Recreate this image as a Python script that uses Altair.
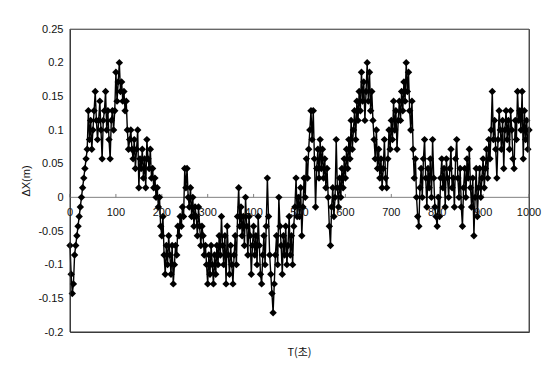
import altair as alt
import pandas as pd

# Displacement record, sampled every 2.5 s, stored as sensor counts (1 count = 1/70 m)
RES_M = 1 / 70
DT_S = 2.5

seg_000 = [-5, -8, -10, -9, -6, -5, -4, -3, -2, -1, 0, 1, 2, 3, 4, 5, 9, 6, 8, 5]
seg_050 = [7, 9, 11, 8, 6, 8, 10, 7, 4, 8, 9, 11, 7, 9, 6, 4, 8, 9, 7, 9]
seg_100 = [13, 10, 12, 14, 11, 12, 10, 11, 9, 10, 7, 5, 6, 7, 5, 4, 6, 3, 5, 7]
seg_150 = [1, 4, 3, 5, 2, 4, 1, 6, 4, 3, 5, 2, 3, 1, 2, 0, 1, -1, 0, -3]
seg_200 = [-4, -2, -6, -8, -5, -7, -4, -6, -8, -5, -9, -7, -5, -6, -3, -4, -2, -3, -1, -2]
seg_250 = [3, 1, 3, 0, -1, 1, -2, 0, -3, -1, -2, -4, -1, -3, -5, -3, -4, -6, -5, -7]
seg_300 = [-9, -6, -8, -5, -7, -9, -6, -8, -5, -7, -4, -6, -2, -5, -7, -4, -9, -3, -6, -8]
seg_350 = [-5, -7, -9, -6, -4, -7, -2, 1, -3, -1, -4, -2, -5, 0, -3, -6, -2, -4, -8, -5]
seg_400 = [-3, -6, -4, -7, -2, -5, -8, -9, -6, -4, -7, -3, 2, -2, -6, -8, -10, -12, -9, -6]
seg_450 = [-4, -7, 0, -3, -5, -8, -4, -6, -3, -7, -5, -2, -6, -4, -7, -3, -1, 2, -2, 0]
seg_500 = [-2, 1, -4, -1, 2, 0, 4, 2, 5, 7, 9, 6, 9, 4, -1, 3, 5, 2, 6, 3]
seg_550 = [5, 2, 4, 1, 3, 0, -3, -5, -1, 1, -2, 0, 6, 1, -1, 2, 0, 3, 1, 4]
seg_600 = [2, 5, 3, 6, 4, 8, 5, 7, 9, 6, 10, 8, 11, 9, 13, 10, 12, 8, 11, 14]
seg_650 = [10, 13, 9, 11, 8, 6, 4, 7, 3, 5, 2, 4, 1, 3, 6, 2, 1, 4, 7, 5]
seg_700 = [8, 6, 10, 7, 9, 5, 8, 10, 8, 11, 9, 12, 10, 14, 11, 13, 9, 7, 10, 5]
seg_750 = [2, 4, 0, -2, -3, 1, 3, 0, 4, 6, 2, -1, 3, 1, 4, 0, 6, 2, -1, -2]
seg_800 = [-3, 0, -2, 2, 4, 1, 3, -1, 4, 2, 0, 3, 5, 1, 2, -1, 4, 6, 2, 0]
seg_850 = [3, -1, -3, 1, 3, 0, 4, 2, 5, 1, -1, 2, -4, 0, 3, -2, 1, 3, 0, 2]
seg_900 = [4, 1, 3, 5, 2, 6, 4, 7, 11, 6, 8, 5, 2, 6, 9, 7, 5, 8, 3, 7]
seg_950 = [9, 6, 8, 5, 9, 7, 4, 3, 8, 6, 11, 8, 9, 7, 11, 4, 9, 6, 8, 5, 7]

dx_counts = (seg_000 + seg_050 + seg_100 + seg_150 + seg_200 + seg_250 + seg_300
             + seg_350 + seg_400 + seg_450 + seg_500 + seg_550 + seg_600 + seg_650
             + seg_700 + seg_750 + seg_800 + seg_850 + seg_900 + seg_950)

x_ticks = [0, 100, 200, 300, 400, 500, 600, 700, 800, 900, 1000]
y_ticks = [-0.2, -0.15, -0.1, -0.05, 0, 0.05, 0.1, 0.15, 0.2, 0.25]

T_MIN, T_MAX = 0, 1000
Y_MIN, Y_MAX = -0.2, 0.25

df = pd.DataFrame({
    "T": [i * DT_S for i in range(len(dx_counts))],
    "dX": [c * RES_M for c in dx_counts],
})
tick_df = pd.DataFrame({"T": x_ticks, "label": [str(v) for v in x_ticks]})

# the four edges of the plot frame, in data units
edges = pd.DataFrame({
    "x": [T_MIN, T_MIN, T_MIN, T_MAX],
    "x2": [T_MAX, T_MAX, T_MIN, T_MAX],
    "y": [Y_MAX, Y_MIN, Y_MIN, Y_MIN],
    "y2": [Y_MAX, Y_MIN, Y_MAX, Y_MAX],
    "c": ["#8a8a8a", "#333333", "#333333", "#555555"],
})

PLOT_W, PLOT_H = 459, 303

x_scale = alt.Scale(domain=[T_MIN, T_MAX], nice=False, zero=False)
y_scale = alt.Scale(domain=[Y_MIN, Y_MAX], nice=False)

y_axis = alt.Axis(
    values=y_ticks, title="ΔX(m)", grid=False, ticks=False, domain=False,
    labelExpr="replace(format(datum.value, '.2~f'), '\u2212', '-')",
    labelPadding=7, labelFont="Liberation Sans", labelFontSize=11,
    labelColor="#111111", titleFont="Liberation Sans", titleFontSize=11,
    titleFontWeight="normal", titleColor="#111111", labelOverlap=False,
    titlePadding=6,
)

base = alt.Chart(df).encode(
    x=alt.X("T:Q", scale=x_scale, axis=None),
    y=alt.Y("dX:Q", scale=y_scale, axis=y_axis),
)

# horizontal axis drawn along the zero line: line, small ticks and labels
zero_line = alt.Chart(tick_df).mark_rule(color="#808080", strokeWidth=1).encode(
    x=alt.X("min(T):Q", scale=x_scale, axis=None),
    x2="max(T):Q",
    y=alt.Y("zero:Q", scale=y_scale, axis=y_axis),
).transform_calculate(zero="0")

zero_ticks = alt.Chart(tick_df).mark_rule(color="#808080", strokeWidth=1).encode(
    x=alt.X("T:Q", scale=x_scale, axis=None),
    y=alt.Y("zero:Q", scale=y_scale, axis=y_axis),
    y2="tip:Q",
).transform_calculate(zero="0", tip="0.005")

tick_labels = alt.Chart(tick_df).mark_text(
    font="Liberation Sans", fontSize=11, color="#111111", baseline="top", dy=10
).encode(
    x=alt.X("T:Q", scale=x_scale, axis=None),
    y=alt.Y("zero:Q", scale=y_scale, axis=y_axis),
    text="label:N",
).transform_calculate(zero="0")

line = base.mark_line(color="#000000", strokeWidth=1.4)
pts = base.mark_point(shape="diamond", filled=True, size=55, color="#000000", opacity=1)

frame = alt.Chart(edges).mark_rule(strokeWidth=1).encode(
    x=alt.X("x:Q", scale=x_scale, axis=None),
    x2="x2:Q",
    y=alt.Y("y:Q", scale=y_scale, axis=y_axis),
    y2="y2:Q",
    color=alt.Color("c:N", scale=None),
)

# horizontal axis caption, centred under the plot
x_caption = alt.Chart(pd.DataFrame({"label": ["T(초)"]})).mark_text(
    font="Noto Sans CJK KR", fontSize=11, color="#111111", baseline="middle", align="center"
).encode(x=alt.value(PLOT_W / 2), y=alt.value(PLOT_H + 21), text="label:N")

chart = (
    alt.layer(zero_line, zero_ticks, line, pts, tick_labels, frame, x_caption)
    .properties(
        width=PLOT_W,
        height=PLOT_H,
        padding={"left": 70, "top": 29, "right": 26, "bottom": 42},
        autosize=alt.AutoSizeParams(type="none"),
        background="white",
    )
    .configure_view(stroke="#444444", strokeWidth=1)
)

chart.save("out.html", embed_options={"renderer": "svg", "actions": False})
